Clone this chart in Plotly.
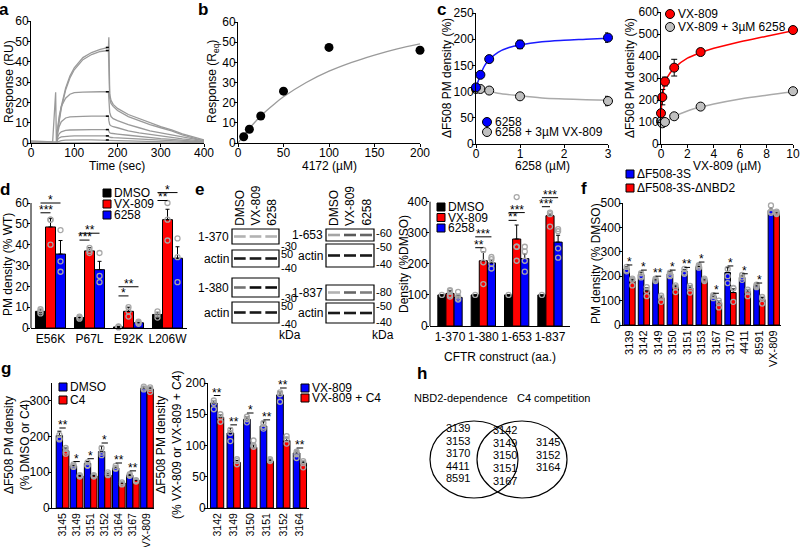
import plotly.graph_objects as go

W, H = 800, 547
FONT = 'Arial, "Liberation Sans", sans-serif'
BLUE = '#0000ff'
RED = '#ff0000'
GREY = '#a8a8a8'

# ---------- a: SPR sensorgrams ----------
spr_time = [0, 50, 57, 59, 61, 65, 70, 80, 90, 100, 120, 140, 160, 179, 180,
            182, 185, 190, 200, 225, 250, 275, 300, 325, 350, 375, 400]
spr_resp = [
    [1, 0.5, 25, -4, 6, 12, 18, 27, 33, 37, 42, 44.5, 46, 47, 52, 24, 21, 19, 17, 14, 12, 10, 8, 6.5, 4.5, 3, 1.5],
    [0.5, 0.3, 0.5, 0.5, 5, 11, 17, 26, 32, 36, 41, 43.5, 45, 45.5, 37, 22, 19.5, 18, 16, 13, 11, 9, 7.5, 6, 4, 2.5, 1],
    [0, 0, 0, 0, 6, 13, 18, 22, 24, 24.8, 25, 25.2, 25.2, 25.2, 20, 15, 13, 12, 11, 9, 7.5, 6, 5, 4, 3, 2, 1],
    [0, 0, 0, 0, 4, 8, 10.5, 12.3, 12.8, 13, 13.1, 13.2, 13.2, 13.2, 11, 9, 8.5, 8, 7.5, 6, 5, 4.2, 3.5, 2.8, 2, 1.4, 0.8],
    [0, 0, 0, 0, 2.5, 4.5, 5.5, 6.2, 6.4, 6.5, 6.5, 6.6, 6.6, 6.6, 5.8, 5, 4.8, 4.6, 4.4, 3.8, 3.2, 2.7, 2.2, 1.8, 1.3, 0.9, 0.5],
    [0, 0, 0, 0, 1.5, 2.5, 3, 3.3, 3.4, 3.5, 3.5, 3.5, 3.5, 3.5, 3.1, 2.8, 2.7, 2.6, 2.5, 2.2, 1.9, 1.7, 1.4, 1.1, 0.8, 0.5, 0.3],
    [0, 0, 0, 0, 0.6, 1, 1.2, 1.4, 1.5, 1.5, 1.5, 1.5, 1.5, 1.5, 1.4, 1.3, 1.3, 1.2, 1.2, 1, 0.9, 0.7, 0.6, 0.5, 0.4, 0.2, 0.1],
    [0, 0, 0, 0, 0.2, 0.3, 0.3, 0.3, 0.3, 0.3, 0.3, 0.3, 0.3, 0.3, 0.3, 0.2, 0.2, 0.2, 0.2, 0.2, 0.1, 0.1, 0.1, 0.1, 0, 0, 0],
]
spr_fit_time = [173, 180]
spr_fit_resp = [47, 45.5, 25.2, 13.2, 6.6, 3.5, 1.5]

# ---------- b: steady-state binding ----------
b_conc = [6.25, 12.5, 25, 50, 100, 200]
b_req = [3.1, 6.8, 13.4, 25.7, 47.4, 46]
b_fit_x = [0, 10, 20, 30, 40, 50, 75, 100, 125, 150, 175, 200]
b_fit_y = [0, 5.9, 11, 15.5, 19.4, 22.9, 30, 35.6, 40, 43.6, 46.7, 49.2]

# ---------- c: dose responses ----------
c1_x = [0, 0.1, 0.3, 1, 3]
c1_6258 = [108, 132, 162, 190, 203]
c1_6258_err = [0, 4, 5, 8, 9]
c1_combo = [105, 105, 102, 91, 82]
c1_combo_err = [3, 3, 3, 5, 9]
c1_fit_x = [0, 0.05, 0.1, 0.2, 0.3, 0.5, 0.75, 1, 1.5, 2, 2.5, 3]
c1_fit_6258 = [108, 120, 132, 150, 161, 175, 184, 189, 195, 198, 200, 202]
c1_fit_combo_x = [0, 0.3, 0.5, 1, 1.5, 2, 2.5, 3]
c1_fit_combo = [106, 101, 97, 92, 88, 86, 84.5, 83.5]

c2_x = [0, 0.1, 0.3, 1, 3, 10]
c2_vx = [140, 213, 284, 347, 418, 518]
c2_vx_err = [12, 35, 20, 38, 15, 15]
c2_combo = [103, 94, 100, 126, 170, 240]
c2_combo_err = [6, 5, 4, 6, 6, 8]
c2_fit_x = [0, 0.05, 0.1, 0.2, 0.3, 0.5, 1, 2, 3, 4, 6, 8, 10]
c2_fit_vx = [140, 180, 210, 250, 275, 305, 345, 390, 415, 435, 465, 490, 515]
c2_fit_combo_x = [0, 0.3, 1, 2, 3, 4, 6, 8, 10]
c2_fit_combo = [98, 100, 125, 150, 168, 182, 205, 222, 237]

# ---------- d: mutants ----------
d_mutants = ['E56K', 'P67L', 'E92K', 'L206W']
d_dmso = [8, 5, 0.5, 6.5]
d_dmso_err = [1, 0.5, 0.3, 1]
d_vx = [48.5, 37, 8, 52]
d_vx_err = [4, 1.5, 2, 5]
d_6258 = [35.5, 28, 2.5, 33.5]
d_6258_err = [6.5, 4, 0.5, 5.5]
d_dmso_pts = [[7, 8, 9], [4.5, 5, 5.5], [0.3, 0.5, 0.8], [5, 6.5, 8]]
d_vx_pts = [[52, 52, 40], [38.5, 36, 37], [10, 8, 5.5], [60, 52, 42]]
d_6258_pts = [[47, 32, 27], [36, 25, 22], [2.5, 2, 3], [43, 34, 22]]
d_sig = [(0, 2, 60, '*'), (0, 1, 55.3, '***'), (1, 2, 45.5, '**'), (1, 1, 42.2, '***'),
         (2, 2, 19.8, '**'), (2, 1, 15.4, '*'), (3, 2, 65, '*'), (3, 1, 61.2, '**')]

# ---------- e: blots + quantification ----------
e_lanes = ['DMSO', 'VX-809', '6258']
blot_370 = [0.3, 0.3, 0.3]
blot_380 = [0.55, 0.95, 0.95]
blot_653 = [0.35, 0.65, 0.6]
blot_837 = [0.3, 0.6, 0.5]
blot_actin = [0.9, 0.9, 0.9]
e_constructs = ['1-370', '1-380', '1-653', '1-837']
e_dmso = [100, 100, 100, 100]
e_dmso_err = [0, 0, 0, 0]
e_vx = [105, 210, 280, 355]
e_vx_err = [8, 28, 45, 5]
e_6258 = [92, 203, 217, 270]
e_6258_err = [5, 10, 15, 22]
e_dmso_pts = [[100], [100], [100], [100]]
e_vx_pts = [[115, 112, 100, 95], [245, 205, 135], [415, 255, 255, 210], [365, 360, 320]]
e_6258_pts = [[110, 95, 88, 85], [222, 215, 200, 185], [255, 240, 210, 175], [312, 305, 250, 220]]
e_sig = [(1, 1, 252, '**'), (1, 2, 287, '***'), (2, 1, 340, '**'), (2, 2, 365, '***'),
         (3, 1, 384, '***'), (3, 2, 413, '***')]

# ---------- f: NBD2 dependence ----------
f_cmpds = ['3139', '3142', '3149', '3150', '3151', '3153', '3167', '3170', '4411', '8591', 'VX-809']
f_3s = [230, 207, 185, 210, 220, 240, 118, 215, 195, 160, 470]
f_3s_err = [8, 10, 8, 8, 8, 10, 5, 20, 8, 5, 10]
f_dnbd2 = [180, 140, 112, 155, 152, 185, 92, 133, 138, 105, 460]
f_dnbd2_err = [8, 12, 8, 8, 8, 5, 8, 15, 8, 8, 8]
f_3s_pts = [[238, 220, 225], [212, 200, 195], [190, 180, 185], [215, 205, 200], [230, 215, 210],
            [245, 235, 240], [122, 118, 110], [230, 200, 172], [205, 195, 185], [165, 160, 155],
            [490, 465, 460]]
f_dnbd2_pts = [[190, 185, 162], [155, 140, 118], [120, 112, 95], [162, 155, 135], [160, 150, 133],
               [190, 185, 180], [100, 90, 72], [152, 150, 95], [145, 135, 118], [115, 108, 88],
               [465, 460, 455]]
f_sig_y = [246, 225, 200, 225, 236, 258, 130, 242, 210, 172]
f_sig_txt = ['*', '*', '**', '*', '**', '*', '*', '*', '*', '*']

# ---------- g: C4 competition ----------
g1_cmpds = ['3145', '3149', '3151', '3152', '3164', '3167', 'VX-809']
g1_dmso = [203, 118, 125, 158, 112, 92, 335]
g1_dmso_err = [12, 5, 5, 15, 5, 3, 5]
g1_c4 = [160, 90, 90, 92, 70, 78, 333]
g1_c4_err = [8, 3, 3, 5, 3, 3, 5]
g1_dmso_pts = [[205, 195, 192], [122, 118, 115], [128, 120, 118], [168, 155, 148], [118, 112, 110],
               [95, 92, 90], [340, 335, 332]]
g1_c4_pts = [[168, 158, 152], [92, 90, 88], [92, 90, 88], [100, 95, 92], [72, 68, 66],
             [78, 76, 74], [338, 333, 325]]
g1_sig_y = [224, 130, 138, 182, 126, 104]
g1_sig_txt = ['**', '*', '*', '*', '**', '**']

g2_cmpds = ['3142', '3149', '3150', '3151', '3152', '3164']
g2_vx = [168, 120, 142, 131, 181, 88]
g2_vx_err = [4, 8, 4, 7, 5, 3]
g2_c4 = [145, 73, 97, 75, 108, 72]
g2_c4_err = [4, 3, 4, 3, 4, 3]
g2_vx_pts = [[172, 168, 158], [125, 120, 107], [146, 142, 137], [136, 130, 127], [185, 182, 170], [90, 86, 80]]
g2_c4_pts = [[150, 145, 138], [78, 75, 70], [108, 100, 98], [78, 76, 75], [115, 110, 103], [75, 72, 65]]
g2_sig_y = [180, 133, 152, 141, 192, 96]
g2_sig_txt = ['**', '**', '*', '**', '**', '**']

# ---------- h: Venn ----------
venn_nbd2_only = ['3139', '3153', '3170', '4411', '8591']
venn_both = ['3142', '3149', '3150', '3151', '3167']
venn_c4_only = ['3145', '3152', '3164']

fig = go.Figure()
lay = dict(template='none', width=W, height=H, margin=dict(l=0, r=0, t=0, b=0, autoexpand=False),
           paper_bgcolor='white', plot_bgcolor='rgba(0,0,0,0)', showlegend=False,
           font=dict(family=FONT, size=12, color='black'))
annotations = []
shapes = []


def sid(n):
    return '' if n == 1 else str(n)


def axes(n, x0, x1, top, bottom, xr, yr, xkw=None, ykw=None):
    s = sid(n)
    base = dict(showgrid=False, zeroline=False, showline=True, linecolor='black', linewidth=1,
                ticks='outside', ticklen=3, tickwidth=1, tickcolor='black', tickfont=dict(size=12),
                automargin=False)
    lay['xaxis' + s] = {**base, 'domain': [x0 / W, x1 / W], 'range': xr, 'anchor': 'y' + s,
                        'ticklabelstandoff': -4, **(xkw or {})}
    lay['yaxis' + s] = {**base, 'domain': [1 - bottom / H, 1 - top / H], 'range': yr, 'anchor': 'x' + s,
                        'ticklabelstandoff': -4, **(ykw or {})}


def cat(labels, angle=0, size=12):
    return dict(tickvals=list(range(len(labels))), ticktext=labels, ticks='', tickangle=angle,
                tickfont=dict(size=size), ticklabelstandoff=0)


def on(n):
    return dict(xaxis='x' + sid(n), yaxis='y' + sid(n))


def note(x, y, text, size=12, xa='left', ya='middle', angle=0, ref=10, yshift=0):
    annotations.append(dict(x=x, y=y, text=text, showarrow=False, xanchor=xa, yanchor=ya,
                            textangle=angle, font=dict(size=size), borderpad=0, yshift=yshift,
                            xref='x' + sid(ref), yref='y' + sid(ref)))


def bars(n, series, errs, colors, gw):
    w = gw / len(series)
    centers = []
    for k, (vals, err, col) in enumerate(zip(series, errs, colors)):
        off = -gw / 2 + k * w
        fig.add_bar(x=list(range(len(vals))), y=vals, width=w, offset=off,
                    marker=dict(color=col, line=dict(color='black', width=1)),
                    error_y=dict(type='data', symmetric=False, array=err, arrayminus=[0] * len(err),
                                 color='black', thickness=1, width=2), **on(n))
        centers.append(off + w / 2)
    return centers


def reps(n, centers, rep_series):
    xs, ys = [], []
    for c, series in zip(centers, rep_series):
        for i, pts in enumerate(series):
            xs += [i + c] * len(pts)
            ys += pts
    fig.add_scatter(x=xs, y=ys, mode='markers', cliponaxis=False,
                    marker=dict(symbol='circle-open', size=5, color=GREY, line=dict(width=1.3)), **on(n))


def sig(n, centers, items, first=0):
    for g, b, y, s in items:
        fig.add_scatter(x=[g + centers[first], g + centers[b]], y=[y, y], mode='lines',
                        line=dict(color='black', width=1), **on(n))
        note((2 * g + centers[first] + centers[b]) / 2, y, s, size=12, xa='center', ya='bottom',
             ref=n, yshift=-5)


def legend_box(x, ys, colors, labels, symbol='square', size=8):
    fig.add_scatter(x=[x] * len(ys), y=ys, mode='markers', cliponaxis=False,
                    marker=dict(symbol=symbol, size=size, color=colors, line=dict(color='black', width=1)),
                    **on(10))
    for y, lab in zip(ys, labels):
        note(x + size / 2 + 2, y, lab, size=12)


# ---------- axes ----------
axes(1, 31, 204, 21, 143, [0, 400], [0, 60], dict(dtick=100), dict(dtick=10))
axes(2, 238, 420, 22, 143, [0, 200], [0, 60], dict(dtick=50), dict(dtick=10))
axes(3, 476, 608, 13, 144, [0, 3], [0, 250], dict(dtick=1), dict(dtick=50))
axes(4, 661, 793, 12, 144, [0, 10], [0, 600], dict(dtick=2), dict(dtick=100))
axes(5, 31, 187, 190.5, 328, [-0.5, 3.5], [0, 66], cat(d_mutants),
     dict(tickvals=[0, 10, 20, 30, 40, 50, 60], showline=False))
axes(6, 430, 570, 195.5, 326, [-0.6, 3.6], [0, 420], cat(e_constructs),
     dict(tickvals=[0, 100, 200, 300, 400], showline=False))
axes(7, 623, 781, 203, 325, [-0.45, 10.5], [0, 500], cat(f_cmpds, -90, 11), dict(dtick=100))
axes(8, 52, 154, 383, 508, [-0.75, 6.5], [0, 350], cat(g1_cmpds, -90, 10.5), dict(tickvals=[0, 100, 200, 300]))
axes(9, 208, 309, 383, 508, [-0.55, 5.55], [0, 200], cat(g2_cmpds, -90, 10.5), dict(dtick=50))
axes(10, 0, W, 0, H, [0, W], [H, 0], dict(visible=False), dict(visible=False))

# manual y axis lines that stop at the top tick
for x, y0, y1 in [(31, 203, 328), (430, 201.7, 326)]:
    shapes.append(dict(type='line', xref='x10', yref='y10', x0=x, x1=x, y0=y0, y1=y1,
                       line=dict(color='black', width=1)))

# axis titles
for x, y, t in [(117, 166, 'Time (sec)'), (329, 166, '4172 (µM)'), (542, 166, '6258 (µM)'),
                (727, 166, 'VX-809 (µM)'), (500, 357, 'CFTR construct (aa.)')]:
    note(x, y, t, xa='center')
for x, y, t in [(9, 82, 'Response (RU)'), (213, 82, 'Response (R<sub>eq</sub>)'),
                (447, 78, 'ΔF508 PM density (%)'), (630, 78, 'ΔF508 PM density (%)'),
                (8, 265, 'PM density (% WT)'), (404, 264, 'Density (%DMSO)'),
                (596, 264, 'PM density (% DMSO)'), (17, 445, 'ΔF508 PM density<br>(% DMSO or C4)'),
                (169, 445, 'ΔF508 PM density<br>(% VX-809 or VX-809 + C4)')]:
    note(x, y, t, xa='center', angle=-90)

# ---------- a ----------
for resp in spr_resp:
    fig.add_scatter(x=spr_time, y=resp, mode='lines', line=dict(color='#9a9a9a', width=1.3), **on(1))
for r in spr_fit_resp:
    fig.add_scatter(x=spr_fit_time, y=[r, r], mode='lines', line=dict(color='black', width=1.5), **on(1))

# ---------- b ----------
fig.add_scatter(x=b_fit_x, y=b_fit_y, mode='lines', line=dict(color='#9a9a9a', width=1.3, shape='spline'), **on(2))
fig.add_scatter(x=b_conc, y=b_req, mode='markers', cliponaxis=False, marker=dict(color='black', size=9), **on(2))


# ---------- c ----------
def dose(n, fx, fy, x, y, err, col, line_col):
    fig.add_scatter(x=fx, y=fy, mode='lines', line=dict(color=line_col, width=1.5, shape='spline'), **on(n))
    fig.add_scatter(x=x, y=y, mode='markers', cliponaxis=False,
                    error_y=dict(type='data', array=err, color='black', thickness=1, width=3),
                    marker=dict(color=col, size=9, line=dict(color='black', width=1)), **on(n))


dose(3, c1_fit_combo_x, c1_fit_combo, c1_x, c1_combo, c1_combo_err, '#c0c0c0', '#aaaaaa')
dose(3, c1_fit_x, c1_fit_6258, c1_x, c1_6258, c1_6258_err, BLUE, '#1a1aff')
dose(4, c2_fit_combo_x, c2_fit_combo, c2_x, c2_combo, c2_combo_err, '#c0c0c0', '#aaaaaa')
dose(4, c2_fit_x, c2_fit_vx, c2_x, c2_vx, c2_vx_err, RED, RED)
legend_box(487, [122, 132], [BLUE, '#c0c0c0'], ['6258', '6258 + 3µM VX-809'], 'circle', 9)
legend_box(670, [14, 27], [RED, '#c0c0c0'], ['VX-809', 'VX-809 + 3µM 6258'], 'circle', 9)

# ---------- d ----------
cd = bars(5, [d_dmso, d_vx, d_6258], [d_dmso_err, d_vx_err, d_6258_err], ['black', RED, BLUE], 0.77)
reps(5, cd, [d_dmso_pts, d_vx_pts, d_6258_pts])
sig(5, cd, d_sig)
legend_box(107, [193, 204, 215], ['black', RED, BLUE], ['DMSO', 'VX-809', '6258'])

# ---------- e ----------
ce = bars(6, [e_dmso, e_vx, e_6258], [e_dmso_err, e_vx_err, e_6258_err], ['black', RED, BLUE], 0.73)
reps(6, ce, [e_dmso_pts, e_vx_pts, e_6258_pts])
sig(6, ce, e_sig)
legend_box(441, [207, 217.5, 228], ['black', RED, BLUE], ['DMSO', 'VX-809', '6258'])

blots = [
    ('1-370', 232, 279, 229, 244, blot_370, [('-30', 246)]),
    ('actin', 232, 279, 250, 267, blot_actin, [('50', 254), ('-40', 268)]),
    ('1-380', 232, 279, 278, 297, blot_380, [('-30', 298)]),
    ('actin', 232, 279, 302, 323, blot_actin, [('50', 306), ('-40', 324)]),
    ('1-653', 326, 374, 229, 241, blot_653, [('-60', 233)]),
    ('actin', 326, 374, 244, 267, blot_actin, [('-50', 247), ('-40', 264)]),
    ('1-837', 326, 374, 285, 300, blot_837, [('-80', 292)]),
    ('actin', 326, 374, 303, 323, blot_actin, [('-50', 306), ('-40', 322)]),
]
for lab, x0, x1, y0, y1, inten, marks in blots:
    shapes.append(dict(type='rect', xref='x10', yref='y10', x0=x0, x1=x1, y0=y0, y1=y1,
                       line=dict(color='black', width=1.2), fillcolor='white'))
    lw = (x1 - x0) / len(inten)
    yc = (y0 + y1) / 2
    for i, v in enumerate(inten):
        g = int(255 * (1 - v))
        shapes.append(dict(type='rect', xref='x10', yref='y10', x0=x0 + i * lw + 2, x1=x0 + (i + 1) * lw - 2,
                           y0=yc - 1.3, y1=yc + 1.3, line=dict(width=0), fillcolor=f'rgb({g},{g},{g})'))
    note(x0 - 2, yc, lab, xa='right')
    for t, y in marks:
        note(x1 + 1, y, t, size=11)
for x0, x1 in [(232, 279), (326, 374)]:
    lw = (x1 - x0) / 3
    for i, lane in enumerate(e_lanes):
        note(x0 + (i + 0.5) * lw, 227, lane, xa='center', ya='bottom', angle=-90)
note(290, 335, 'kDa', xa='center')
note(383, 335, 'kDa', xa='center')

# ---------- f ----------
cf = bars(7, [f_3s, f_dnbd2], [f_3s_err, f_dnbd2_err], [BLUE, RED], 0.78)
reps(7, cf, [f_3s_pts, f_dnbd2_pts])
sig(7, cf, [(i, 1, y, s) for i, (y, s) in enumerate(zip(f_sig_y, f_sig_txt))])
legend_box(630, [174, 188], [BLUE, RED], ['ΔF508-3S', 'ΔF508-3S-ΔNBD2'])

# ---------- g ----------
cg1 = bars(8, [g1_dmso, g1_c4], [g1_dmso_err, g1_c4_err], [BLUE, RED], 0.9)
reps(8, cg1, [g1_dmso_pts, g1_c4_pts])
sig(8, cg1, [(i, 1, y, s) for i, (y, s) in enumerate(zip(g1_sig_y, g1_sig_txt))])
legend_box(63, [387, 400], [BLUE, RED], ['DMSO', 'C4'])

cg2 = bars(9, [g2_vx, g2_c4], [g2_vx_err, g2_c4_err], [BLUE, RED], 0.8)
reps(9, cg2, [g2_vx_pts, g2_c4_pts])
sig(9, cg2, [(i, 1, y, s) for i, (y, s) in enumerate(zip(g2_sig_y, g2_sig_txt))])
legend_box(305, [388, 398], [BLUE, RED], ['VX-809', 'VX-809 + C4'])

# ---------- h ----------
shapes.append(dict(type='circle', xref='x10', yref='y10', x0=430, x1=518, y0=421, y1=498,
                   line=dict(color='black', width=1.2)))
shapes.append(dict(type='circle', xref='x10', yref='y10', x0=477, x1=567, y0=421, y1=498,
                   line=dict(color='black', width=1.2)))
note(461, 398, 'NBD2-dependence', size=11, xa='center')
note(553, 398, 'C4 competition', size=11, xa='center')
for i, s in enumerate(venn_nbd2_only):
    note(458, 428 + i * 12.5, s, size=11, xa='center')
for i, s in enumerate(venn_both):
    note(505, 430 + i * 12.7, s, size=11, xa='center')
for i, s in enumerate(venn_c4_only):
    note(548, 442 + i * 12.5, s, size=11, xa='center')

# ---------- panel letters ----------
for letter, x, y in [('a', 4, 9), ('b', 203, 9), ('c', 441, 9), ('d', 5, 189), ('e', 199, 189),
                     ('f', 584, 188), ('g', 6, 368), ('h', 422, 373)]:
    note(x, y, f'<b>{letter}</b>', size=17, xa='center')

lay['annotations'] = annotations
lay['shapes'] = shapes
fig.update_layout(**lay)
fig.write_html("out.html", config={'displayModeBar': False},
               post_script="document.body.style.margin='0px';")
